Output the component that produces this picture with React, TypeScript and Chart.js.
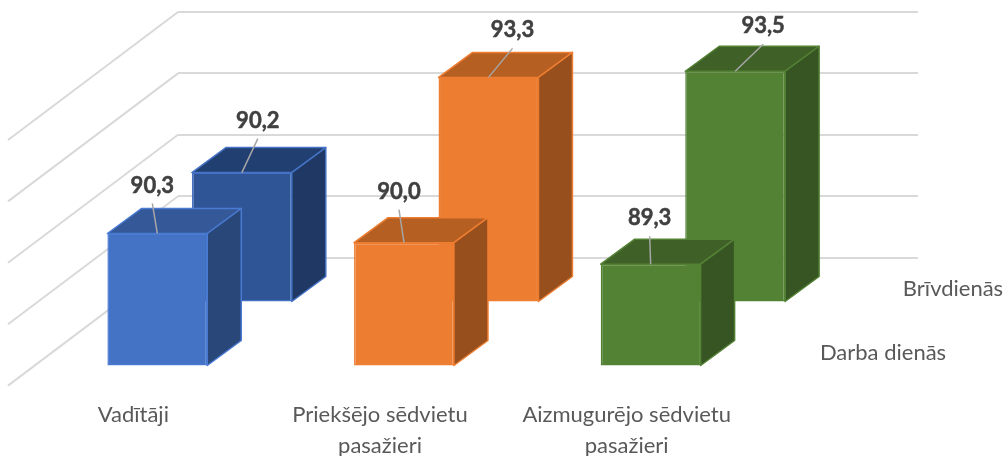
import React, { useEffect, useRef } from "react";
import { Chart, registerables } from "chart.js";

Chart.register(...registerables);

const categories = [
  "Vadītāji",
  ["Priekšējo sēdvietu", "pasažieri"],
  ["Aizmugurējo sēdvietu", "pasažieri"],
];
const workdayLabel = "Darba dienās";
const weekendLabel = "Brīvdienās";
const workdayValues = [90.3, 90.0, 89.3];
const weekendValues = [90.2, 93.3, 93.5];
const axisMin = 86;
const axisMax = 96;
const axisStep = 2;

const faceFront = ["#4472C4", "#ED7D31", "#548235"];
const topFront = ["#355899", "#B55F23", "#3F6127"];
const sideFront = ["#2A477A", "#964F1D", "#365522"];
const edgeFront = ["#4A7BD3", "#ED7D31", "#548235"];
const faceBack = ["#2F5597", "#ED7D31", "#548235"];
const topBack = ["#223F72", "#B55F23", "#3F6127"];
const sideBack = ["#1F3864", "#964F1D", "#365522"];
const edgeBack = ["#4472C4", "#ED7D31", "#548235"];

const FONT = "Lato, 'Open Sans', sans-serif";
const DEPTH_X = 34;
const DEPTH_Y = 25;

// per-dataset projection of the wall plane into the depth row of that series
const shift = [
  { dx: -144, dy: 46.5 },
  { dx: -59.5, dy: -17.5 },
];
// data label offsets from the centre of the bar's top edge
const labelOffsets = [
  [{ x: -5, y: -48 }, { x: -5, y: -51 }, { x: -1, y: -46 }],
  [{ x: 16, y: -52 }, { x: 24, y: -47 }, { x: 28, y: -45 }],
];
const seriesLabelPos = [
  { x: 883, y: 353 },
  { x: 953, y: 289 },
];

const look = [
  { top: topFront, side: sideFront, edge: edgeFront },
  { top: topBack, side: sideBack, edge: edgeBack },
];

const poly = (ctx: CanvasRenderingContext2D, pts: number[][], fill: string, stroke: string) => {
  ctx.beginPath();
  pts.forEach((p, i) => (i ? ctx.lineTo(p[0], p[1]) : ctx.moveTo(p[0], p[1])));
  ctx.closePath();
  ctx.fillStyle = fill;
  ctx.fill();
  ctx.strokeStyle = stroke;
  ctx.lineWidth = 1.5;
  ctx.lineJoin = "round";
  ctx.stroke();
};

const depthPlugin = {
  id: "depth",
  beforeDatasetsDraw(chart: any) {
    const { ctx, scales } = chart;
    ctx.save();
    ctx.strokeStyle = "#D9D9D9";
    ctx.lineWidth = 2;
    scales.y.ticks.forEach((t: any) => {
      if (t.value === axisMin) return;
      const y = scales.y.getPixelForValue(t.value);
      const x = scales.x.left;
      ctx.beginPath();
      ctx.moveTo(x, y);
      ctx.lineTo(x - 170, y + 128);
      ctx.stroke();
    });
    ctx.restore();
  },
  beforeDatasetDraw(chart: any, args: any) {
    const s = shift[args.index];
    chart.ctx.save();
    chart.ctx.translate(s.dx, s.dy);
  },
  afterDatasetDraw(chart: any, args: any) {
    const { ctx } = chart;
    const st = look[args.index];
    args.meta.data.forEach((bar: any, i: number) => {
      const l = bar.x - bar.width / 2;
      const r = bar.x + bar.width / 2;
      const t = bar.y;
      const b = bar.base;
      poly(ctx, [[l, t], [l + DEPTH_X, t - DEPTH_Y], [r + DEPTH_X, t - DEPTH_Y], [r, t]], st.top[i], st.edge[i]);
      poly(ctx, [[r, t], [r + DEPTH_X, t - DEPTH_Y], [r + DEPTH_X, b - DEPTH_Y], [r, b]], st.side[i], st.edge[i]);
    });
    ctx.restore();
  },
  afterDatasetsDraw(chart: any) {
    const { ctx } = chart;
    chart.data.datasets.forEach((ds: any, d: number) => {
      const meta = chart.getDatasetMeta(d);
      meta.data.forEach((bar: any, i: number) => {
        const ax = bar.x + shift[d].dx;
        const ay = bar.y + shift[d].dy;
        const off = labelOffsets[d][i];
        ctx.save();
        ctx.strokeStyle = "#A6A6A6";
        ctx.lineWidth = 1.5;
        ctx.beginPath();
        ctx.moveTo(ax, ay);
        ctx.lineTo(ax + off.x, ay + off.y + 18);
        ctx.stroke();
        ctx.fillStyle = "#404040";
        ctx.strokeStyle = "#404040";
        ctx.lineWidth = 0.5;
        ctx.font = `bold 22px ${FONT}`;
        ctx.textAlign = "center";
        ctx.textBaseline = "middle";
        const text = ds.data[i].toFixed(1).replace(".", ",");
        ctx.fillText(text, ax + off.x, ay + off.y);
        ctx.strokeText(text, ax + off.x, ay + off.y);
        ctx.restore();
      });
      const p = seriesLabelPos[d];
      ctx.save();
      ctx.fillStyle = "#595959";
      ctx.font = `22px ${FONT}`;
      ctx.textAlign = "center";
      ctx.textBaseline = "middle";
      ctx.fillText(ds.label, p.x, p.y);
      ctx.restore();
    });
  },
};

export default function App() {
  const ref = useRef<HTMLCanvasElement>(null);
  useEffect(() => {
    document.body.style.margin = "0";
    const chart = new Chart(ref.current as HTMLCanvasElement, {
      type: "bar",
      data: {
        labels: categories as any,
        datasets: [
          {
            label: workdayLabel,
            data: workdayValues,
            base: axisMin,
            backgroundColor: faceFront,
            borderColor: edgeFront,
            borderWidth: 1.5,
            borderSkipped: false,
            clip: false,
          },
          {
            label: weekendLabel,
            data: weekendValues,
            base: axisMin,
            backgroundColor: faceBack,
            borderColor: edgeBack,
            borderWidth: 1.5,
            borderSkipped: false,
            clip: false,
          },
        ] as any,
      },
      options: {
        responsive: false,
        animation: false,
        devicePixelRatio: 1,
        grouped: false,
        barPercentage: 0.405,
        categoryPercentage: 1,
        layout: { padding: { left: 178, right: 89, top: 12, bottom: 0 } },
        plugins: { legend: { display: false }, tooltip: { enabled: false } },
        scales: {
          x: {
            grid: { display: false },
            border: { display: false },
            afterFit: (s: any) => {
              s.height = 137;
            },
            ticks: {
              autoSkip: false,
              maxRotation: 0,
              minRotation: 0,
              labelOffset: -168,
              padding: 73,
              color: "#595959",
              font: { family: FONT, size: 22, lineHeight: 1.38 },
            },
          },
          y: {
            min: axisMin,
            max: axisMax,
            border: { display: false },
            afterFit: (s: any) => {
              s.width = 0;
            },
            grid: {
              drawTicks: false,
              lineWidth: (c: any) => (c.tick && c.tick.value === axisMin ? 0 : 2),
              color: "#D9D9D9",
            },
            ticks: { display: false, stepSize: axisStep },
          },
        },
      } as any,
      plugins: [depthPlugin],
    });
    return () => chart.destroy();
  }, []);
  return <canvas ref={ref} width={1007} height={456} style={{ display: "block", width: 1007, height: 456 }} />;
}
